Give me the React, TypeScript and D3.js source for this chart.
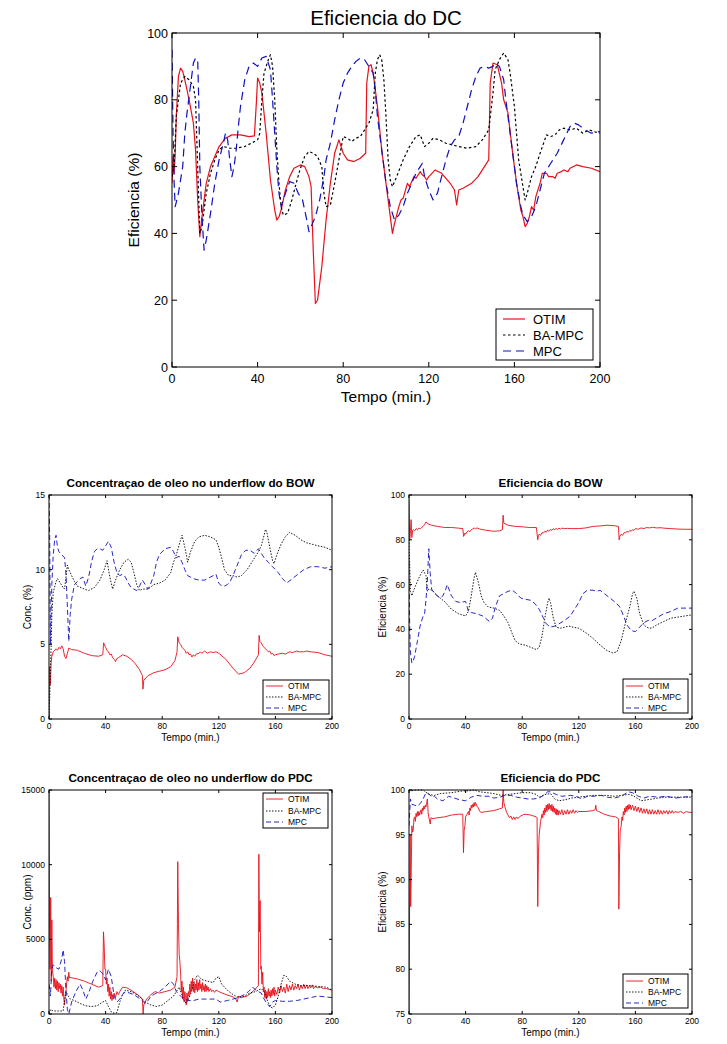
import React from 'react';
import * as d3 from 'd3';

type Pt = [number, number];

const seriesNames = ['OTIM', 'BA-MPC', 'MPC'];
const xTicks = [0, 40, 80, 120, 160, 200];
const dcTicks = [0, 20, 40, 60, 80, 100];
const bowcTicks = [0, 5, 10, 15];
const bowEffTicks = [0, 20, 40, 60, 80, 100];
const pdccTicks = [0, 5000, 10000, 15000];
const pdceTicks = [75, 80, 85, 90, 95, 100];

// ---------- Eficiencia do DC ----------
const dcOtim: Pt[] = [[0,55],[0.5,63],[1,58],[1.5,64],[2,75],[3,87],[4,89.5],[5,88.5],[6,86],[8,80],[10,73],[11,65],[12,50],[13,39],[14,45],[16,55],[18,60],[20,63],[22,66],[25,68.5],[28,69.5],[32,69.5],[36,69],[38.5,69.2],[39.5,80],[40,86.5],[41,85],[42,82],[44,70],[46,56],[48,47],[49,44],[50,45],[51,47],[53,53],[55,57],[57,59.5],[60,60.5],[62,60],[64,57],[65,54],[66,35],[67,19],[68,20],[70,30],[72,44],[74,55],[76,64],[78,68],[80,64],[82,62],[85,61.5],[88,62.5],[90.5,64],[91,85],[92,90],[93,90.5],[94,88],[96,78],[98,65],[100,55],[102,45],[103,40],[104,43],[106,48],[107,50],[108,50.5],[110,55],[111,54],[113,57],[114,56.5],[116,58.5],[117,57.5],[118,57],[119,56],[120,57],[123,59],[126,58],[130,55],[132,53],[133,48.5],[134,53],[136,53.5],[140,55],[143,57],[146,60],[148,62],[148.7,85],[150,91],[152,90.5],[154,85],[155,80],[157,76],[159,65],[161,55],[163,47],[164,45],[165,42],[166,43],[167,45],[168,48],[169,47],[170,51],[172,55],[173,58],[175,58],[176,57],[178,57],[179,56.5],[180,58],[182,58.5],[183,59],[185,58.5],[186,59.5],[189,60.5],[192,60],[196,59.5],[200,58.5]];
const dcBa: Pt[] = [[0,57],[1,60],[2,75],[4,85],[6,87],[8,86],[10,84],[11,80],[12,60],[13,40],[14,42],[16,52],[18,58],[20,62],[22,65],[24,66],[27,65.5],[30,65.5],[34,66],[37,67],[40,68],[41,70],[42,80],[43,88],[45,92],[46,93.5],[47,90],[48,80],[49,65],[50,55],[51,48],[52,45.5],[54,46],[56,50],[58,55],[60,59.5],[62,63],[64,64.5],[66,64],[68,63],[70,60],[71,52],[72,48],[74,48.5],[76,55],[78,62],[80,69],[82,68.5],[84,67.5],[86,68.5],[88,69],[90,71],[92,73],[94,77],[95,88],[96,92],[97,93.5],[98,92],[99,86],[100,75],[101,62],[102,56],[103,54],[105,57],[108,62],[111,66],[114,69],[116,69.5],[118,66],[120,67],[122,68.5],[125,68],[128,67],[131,66.5],[134,66],[138,65.5],[142,66],[145,68],[148,71],[150,82],[151,89],[153,92],[155,94],[157,92],[158,88],[160,78],[161,70],[162,62],[164,54],[165,50],[166,52],[168,57],[170,60],[172,64],[175,69.5],[177,69],[179,69.5],[181,71],[183,71.5],[186,71],[189,71.5],[192,70],[195,71],[197,70.5],[200,70]];
const dcMpc: Pt[] = [[0,95],[0.5,70],[1,55],[1.5,48],[3,52],[5,60],[6,70],[7,76],[9,86],[10,91],[11,92.5],[12,92],[12.5,80],[13,60],[14,45],[15,35],[16,38],[18,46],[20,55],[22,62],[24,67],[25,70],[26,68],[27,62],[28,57],[29,60],[30,65],[31,72],[32,78],[34,86],[36,90],[38,91],[40,90],[42,92.5],[44,93],[45,91],[46,89],[47,80],[48,70],[49,60],[50,52],[51,48],[53,52],[55,55.5],[57,55],[59,52],[61,50],[63,44],[64,40.5],[65,42],[67,45],[69,50],[71,57],[72,62],[74,67],[76,74],[78,80],[80,85],[82,88],[84,90],[86,91.5],[88,92.5],[90,92],[92,90],[94,88],[95,83],[96,75],[98,65],[100,55],[102,48],[104,44],[106,45.5],[108,48],[110,52],[112,55],[114,58],[116,60],[117,61],[118,57],[120,53],[122,50],[124,52],[126,57],[128,62],[130,66],[132,68],[134,69],[136,73],[138,78],[140,83],[142,87],[144,89.5],[146,90],[148,89.5],[150,90],[151,91],[153,90],[155,86],[156,80],[157,75],[159,65],[161,55],[163,48],[164,45.5],[166,43.5],[168,45],[170,48],[172,53],[174,58],[177,61],[180,64],[183,68],[186,72],[188,73],[190,72.5],[193,71],[196,70],[200,70.5]];

// ---------- Concentracao de oleo no underflow do BOW ----------
const bowcOtim: Pt[] = [[0,0],[0.3,3.5],[1,2.3],[1.5,3.8],[2,4.2],[3,4.5],[5,4.7],[6,4.6],[7,4.8],[8,4.7],[9,4.9],[10,4.7],[11,4.2],[12,4.05],[13,4.4],[14,4.75],[16,4.65],[20,4.6],[25,4.4],[30,4.25],[35,4.2],[38,4.3],[38.6,5.1],[40,4.8],[41,4.6],[42,4.5],[43,4.3],[44,4.35],[45,4.1],[46,4],[47,3.85],[48,4.05],[49,4.1],[52,4.3],[55,4.2],[58,4],[61,3.7],[64,3.3],[66,2.9],[66.4,2],[67,2.6],[70,2.9],[74,3.1],[78,3.2],[82,3.3],[86,3.5],[89,3.9],[90.5,4.5],[91,5.5],[92,5.1],[93,5],[94,4.8],[95,4.7],[96,4.6],[97,4.4],[98,4.5],[99,4.3],[100,4.35],[101,4.15],[102,4.3],[103,4.2],[104,4.35],[106,4.4],[107,4.5],[108,4.4],[110,4.55],[112,4.4],[114,4.5],[116,4.45],[118,4.5],[120,4.4],[125,4],[130,3.4],[134,3],[138,3.1],[142,3.4],[145,3.8],[148,4.3],[148.5,5.6],[149,5.2],[150,5.1],[151,4.9],[152,4.8],[153,4.7],[154,4.6],[155,4.5],[156,4.55],[157,4.35],[158,4.4],[159,4.25],[160,4.3],[162,4.35],[165,4.4],[167,4.35],[170,4.5],[172,4.45],[175,4.55],[177,4.5],[180,4.5],[182,4.55],[185,4.5],[190,4.45],[195,4.3],[200,4.2]];
const bowcBa: Pt[] = [[0,0],[1,3],[2,7],[3,8.5],[5,9.2],[6,9.4],[8,9.1],[10,8.8],[11,8.7],[12,9.5],[13,10.3],[14,10],[16,9.6],[18,9.2],[20,8.9],[25,8.7],[28,8.6],[32,8.8],[36,9.3],[39,10],[41,10.6],[43,9.5],[45,8.7],[47,9.3],[50,10],[53,10.5],[56,10.7],[58,10.5],[60,9.8],[62,9],[64,8.6],[66,8.7],[70,8.7],[74,9],[78,9.1],[82,9.3],[86,9.8],[88,10.5],[90,11],[93,12],[94,12.3],[96,11.5],[98,10.5],[100,11.2],[103,11.9],[106,12.2],[110,12.3],[114,12.2],[118,12],[120,11.5],[122,10.8],[124,10],[127,9.6],[130,9.6],[133,9.5],[136,9.6],[140,10],[144,10.6],[148,11.2],[150,11.6],[152,12.3],[153,12.7],[154,12.5],[156,11.5],[158,10.6],[159,10.4],[161,11],[164,11.7],[167,12.2],[170,12.5],[174,12.3],[178,12],[182,11.8],[186,11.7],[190,11.6],[195,11.5],[200,11.3]];
const bowcMpc: Pt[] = [[0,15],[0.5,12],[1,5],[2,9],[3,11],[4,12],[5,12.3],[6,11.5],[7,11.2],[9,11],[11,10.8],[12,9.7],[13,7.5],[14,5.2],[15,7],[16,8],[18,9],[20,9.2],[22,9.4],[24,9.5],[26,8.9],[28,9.5],[30,10.5],[32,11.2],[34,11.4],[36,11.4],[38,11.3],[40,11.6],[42,11.9],[44,11.5],[46,10.5],[48,9.8],[50,9.6],[52,9.7],[54,9.5],[56,9.1],[58,8.8],[60,8.7],[62,8.6],[64,8.9],[66,9.3],[68,9],[70,8.7],[72,9.1],[74,9.6],[76,10.5],[78,11],[82,11.4],[86,11.5],[88,11.2],[90,10.8],[92,10.9],[94,10.5],[96,10],[98,9.6],[102,9.4],[106,9.3],[110,9.3],[114,9.5],[118,9.7],[120,9.1],[122,8.9],[124,8.9],[126,9],[128,9.2],[130,9.6],[133,10.3],[136,11],[139,11.3],[142,11.3],[145,11.1],[148,11.4],[150,11.1],[152,10.8],[155,10.5],[158,10.2],[162,9.8],[165,9.4],[168,9.1],[172,9.4],[176,9.7],[180,10],[185,10.2],[190,10.2],[195,10.1],[200,10.2]];

// ---------- Eficiencia do BOW ----------
const bowEffOtim: Pt[] = [[0,98],[0.5,80],[1,84],[1.5,89],[2,81],[2.5,84],[3,84.5],[4,84],[5,85],[6,84.5],[7,85.2],[8,85],[9,85.5],[10,86],[11,86.8],[12,88],[13,87.3],[14,87],[16,86.5],[20,86],[25,85.5],[30,85.5],[35,85.2],[38,85],[38.6,81.5],[39.5,83],[40,82.5],[41,83.5],[42,84],[43,83.6],[44,84.5],[45,84.8],[46,85.3],[47,84.9],[48,85.3],[50,84.8],[55,84.2],[60,83.8],[64,84],[66,84.5],[66.5,91],[67,87.5],[70,86.5],[75,86],[80,85.8],[85,85.5],[90,85.5],[91,80],[91.5,82],[92,82.5],[93,82],[94,83.2],[95,83],[96,83.8],[97,83.4],[98,84.3],[99,83.8],[100,84.6],[101,84.2],[102,85],[103,84.5],[104,85.1],[105,84.6],[106,85.2],[107,84.8],[108,85.2],[110,85],[112,85.1],[115,85],[120,85],[125,85.3],[130,86],[135,86.2],[140,86.5],[145,86.3],[148,86],[148.5,80],[149,81.5],[150,82.5],[151,82],[152,83.2],[153,83],[154,83.8],[155,83.4],[156,84.2],[157,83.8],[158,84.5],[159,84.2],[160,85],[162,84.7],[164,85.3],[166,85],[168,85.5],[170,85.3],[172,85.6],[175,85.3],[178,85.4],[180,85.2],[185,85],[190,84.8],[195,84.7],[200,84.7]];
const bowEffBa: Pt[] = [[0,80],[1,57],[2,55],[3,57],[5,60],[7,63],[9,65.5],[10,66.5],[12,64],[13,57],[14,58],[16,57.5],[18,56.5],[20,55],[25,52.5],[30,49],[35,47],[40,46],[42,48],[44,55],[46,63],[47,65.5],[49,61],[51,55],[53,52],[56,50],[60,49.5],[64,48.5],[67,46],[70,43],[73,38],[75,35],[78,33.5],[82,33],[86,32],[90,31],[92,32],[94,37],[96,45],[98,52],[99,54],[100,52],[102,45],[104,41],[107,40.5],[110,41],[113,41.5],[116,41],[120,40.5],[125,38.5],[130,36],[135,33],[140,30.5],[144,29.5],[147,30],[150,35],[153,43],[156,50],[158,56],[159,57],[161,54],[163,47],[166,42],[168,41],[170,40.5],[172,40.7],[175,42],[180,43.5],[185,45],[190,45.5],[195,46],[200,46.5]];
const bowEffMpc: Pt[] = [[0,70],[0.5,40],[1,30],[2,25],[3,26],[4,28],[6,35],[8,42],[10,46],[11,47],[12,53],[13,62],[14,76],[15,65],[16,58],[18,56],[20,55],[22,54],[24,55],[26,58],[27,60],[30,55],[33,52.5],[36,52],[40,52.5],[42,48],[44,47.5],[48,47],[52,46],[55,44.5],[57,43.5],[59,45],[61,50],[64,55],[67,56],[70,57],[73,57.5],[76,56],[79,54],[82,53.5],[86,53],[89,51.5],[92,49],[95,45],[97,42.5],[100,41],[103,41.5],[106,42.5],[110,44],[114,46],[117,49],[120,52],[123,56],[126,57.5],[130,57.5],[133,57],[135,57.5],[138,56],[142,54],[146,52],[149,50],[152,45.5],[154,42],[157,39.5],[160,39],[163,41],[166,43],[169,44],[172,44],[176,45.5],[180,47],[185,48],[190,49.5],[195,49.5],[200,49.5]];

// ---------- Concentracao de oleo no underflow do PDC ----------
const pdccOtim: Pt[] = [[0,15000],[0.4,5500],[0.8,3000],[1.2,7800],[1.6,2200],[2,6300],[2.4,3000],[3,2500],[3.5,1800],[4,2400],[4.5,1700],[5,2300],[5.5,1600],[6,2200],[6.5,1500],[7,2100],[7.5,1700],[8,2000],[8.5,1400],[9,1900],[9.5,1200],[10,1800],[10.5,1000],[11,600],[11.5,1300],[12,1500],[12.5,2100],[13,2500],[13.5,2200],[14,2800],[14.5,2400],[15,2450],[20,2350],[25,2200],[30,2000],[35,1800],[38,1900],[38.5,5500],[39,4600],[39.5,3000],[40,3000],[40.5,2000],[41,2400],[41.5,1500],[42,2000],[42.5,1200],[43,1800],[43.5,1000],[44,1500],[44.5,900],[45,1300],[45.5,1000],[46,1400],[47,1100],[48,1500],[49,1300],[50,1500],[52,1800],[55,1750],[58,1600],[61,1400],[64,1200],[66,1000],[66.5,0],[67,600],[69,1000],[72,1300],[75,1500],[78,1400],[82,1500],[86,1600],[89,1800],[90.5,2500],[91,10200],[91.5,6000],[92,4000],[92.5,3500],[93,2700],[93.5,1500],[94,2200],[94.5,1000],[95,1800],[95.5,800],[96,1500],[96.5,1100],[97,600],[97.5,1400],[98,900],[98.5,1500],[99,1200],[99.5,2000],[100,1400],[100.5,2200],[101,1600],[101.5,2400],[102,1500],[102.5,2100],[103,1400],[103.5,2000],[104,1600],[104.5,2300],[105,1500],[105.5,2100],[106,1600],[106.5,2300],[107,1700],[107.5,2000],[108,1500],[108.5,2100],[109,1600],[109.5,1900],[110,1500],[110.5,2000],[111,1500],[111.5,1900],[112,1600],[112.5,1800],[113,1500],[114,1700],[115,1500],[116,1600],[117,1450],[118,1600],[120,1500],[125,1300],[130,1150],[132,1000],[133,800],[134,1200],[136,1100],[140,1200],[144,1500],[148,1900],[148.3,10700],[148.7,5500],[149.2,7600],[149.7,3000],[150,3200],[150.5,2000],[151,2800],[151.5,1500],[152,1800],[152.5,1100],[153,1600],[153.5,1000],[154,1500],[154.5,1100],[155,1700],[155.5,1200],[156,1500],[156.5,1100],[157,1600],[157.5,1200],[158,1700],[158.5,1300],[159,1800],[159.5,1200],[160,1600],[161,1300],[162,1800],[163,1400],[164,1900],[165,1500],[166,1800],[167,1400],[168,2000],[169,1500],[170,1900],[171,1600],[172,2000],[173,1600],[174,1900],[175,1700],[176,2000],[177,1600],[178,1900],[179,1700],[180,2000],[181,1700],[182,1950],[183,1700],[184,1900],[185,1750],[186,1950],[187,1700],[188,1850],[190,1750],[192,1800],[194,1700],[196,1700],[198,1650],[200,1600]];
const pdccBa: Pt[] = [[0,0],[1,300],[3,200],[6,200],[10,200],[11,900],[12,1500],[13,1300],[15,1000],[18,900],[22,700],[26,550],[30,500],[34,550],[38,800],[40,900],[42,500],[44,150],[46,50],[48,100],[50,800],[52,1300],[54,1600],[58,1500],[62,1300],[66,1000],[68,800],[72,600],[76,500],[80,600],[84,900],[88,1200],[90,1500],[92,1800],[95,1000],[97,700],[100,1300],[103,2300],[105,2600],[108,2300],[112,2200],[116,2100],[118,2400],[120,2500],[122,2000],[126,1600],[130,1300],[134,1100],[138,1200],[142,1400],[146,1500],[150,1700],[152,1500],[154,1000],[156,500],[158,400],[160,600],[162,1200],[164,2000],[166,2600],[168,2500],[170,2200],[174,2000],[178,1900],[184,1900],[190,1850],[196,1800],[200,1600]];
const pdccMpc: Pt[] = [[0,2000],[1,1200],[2,3000],[3,3300],[5,3100],[7,3000],[9,3700],[10,4300],[11,3500],[12,1500],[13,300],[14,0],[16,800],[19,1500],[22,2000],[24,1600],[26,1000],[28,1400],[31,2200],[34,2800],[36,2900],[38,2700],[40,2300],[42,3000],[44,2500],[46,1200],[48,800],[50,1000],[52,1300],[54,1500],[57,1400],[60,1300],[63,1100],[66,900],[68,700],[70,900],[72,1200],[74,1300],[78,1500],[82,1800],[86,2200],[88,2000],[90,1500],[94,1100],[98,900],[102,900],[106,1000],[110,1000],[114,1000],[118,1000],[121,800],[126,900],[130,1000],[134,1100],[138,1300],[141,1500],[144,1800],[146,1600],[150,1400],[152,1000],[154,700],[156,500],[158,800],[160,900],[165,850],[170,850],[175,900],[180,1000],[185,1100],[190,1200],[195,1150],[200,1100]];

// ---------- Eficiencia do PDC ----------
const pdceOtim: Pt[] = [[0,75],[0.4,86.5],[0.8,95],[1.2,87],[1.6,91],[2,96],[2.5,95.3],[3,95.5],[3.5,96.8],[4,97],[4.5,96.5],[5,97.4],[5.5,97],[6,97.6],[6.5,97.1],[7,97.6],[7.5,97.2],[8,97.5],[8.5,97.8],[9,97.3],[9.5,98],[10,97.7],[10.5,98.2],[11,97.9],[11.5,98.3],[12,98.1],[12.5,98.6],[13,99],[13.5,97.5],[14,97],[15,96.2],[15.5,96.9],[17,96.8],[20,96.9],[25,97],[30,97.2],[35,97.3],[38,97.3],[38.5,93],[39,95.5],[39.5,96],[40,97],[41,97.3],[42,97.6],[42.5,97.2],[43,98],[43.5,97.7],[44,98.3],[44.5,98],[45,98.4],[45.5,98.1],[46,98.6],[46.5,98.2],[47,98.6],[48,98.2],[49,98],[50,97.6],[51,97.5],[55,97.6],[60,97.7],[64,97.9],[66,98],[66.5,100],[67,98.6],[68,98],[69,97.5],[70,97.2],[71,96.9],[72,97.1],[73,96.7],[74,97],[75,96.7],[76,97],[77,96.8],[78,97],[80,97.2],[82,97.3],[86,97.2],[90,97],[90.5,96.9],[91,87],[91.5,93],[92,95],[93,96.5],[94,97.3],[94.5,96.9],[95,97.7],[95.5,97.2],[96,98],[96.5,97.5],[97,98.3],[97.5,97.6],[98,98.4],[98.5,97.8],[99,98.5],[99.5,97.9],[100,98.3],[100.5,97.7],[101,98.4],[101.5,97.6],[102,98.2],[102.5,97.5],[103,98],[103.5,97.3],[104,97.9],[104.5,97.2],[105,97.8],[105.5,97.2],[106,97.7],[107,97.3],[108,97.8],[109,97.2],[110,97.7],[111,97.3],[112,97.8],[113,97.3],[114,97.7],[115,97.4],[116,97.8],[117,97.4],[118,97.7],[119,97.5],[120,97.6],[125,97.6],[130,97.7],[131.5,97.8],[132,98.3],[132.5,97.7],[134,97.6],[138,97.3],[142,97.1],[146,97],[148,96.8],[148.3,86.7],[148.8,93],[149.3,95.5],[150,96],[150.5,97],[151,96.6],[151.5,97.6],[152,97.2],[152.5,98],[153,97.5],[153.5,98.2],[154,97.6],[154.5,98.3],[155,97.8],[155.5,98.4],[156,97.9],[156.5,98.3],[157,97.8],[158,98.3],[159,97.7],[160,98.2],[161,97.6],[162,98.1],[163,97.5],[164,98],[165,97.4],[166,97.9],[167,97.4],[168,97.9],[169,97.3],[170,97.8],[171,97.3],[172,97.8],[173,97.3],[174,97.7],[175,97.3],[176,97.8],[177,97.3],[178,97.7],[179,97.3],[180,97.7],[181,97.4],[182,97.7],[183,97.3],[184,97.7],[185,97.4],[186,97.7],[187,97.4],[188,97.6],[190,97.5],[192,97.6],[194,97.4],[196,97.6],[198,97.5],[200,97.5]];
const pdceBa: Pt[] = [[0,100],[1,99.9],[5,100],[10,100],[14,99.5],[18,99.4],[22,99.6],[30,99.7],[38,99.9],[42,99.9],[46,100],[50,99.8],[55,99.7],[60,99.6],[65,99.4],[70,99.5],[75,99.6],[80,99.7],[86,99.7],[90,99.5],[92,99.2],[96,99.5],[100,99.6],[103,99],[106,98.8],[110,98.9],[115,99.1],[120,99.2],[125,99.3],[130,99.4],[140,99.4],[145,99.3],[150,99.4],[155,99.5],[158,99.4],[162,99],[164,98.8],[168,98.9],[172,99],[176,99.1],[180,99.2],[190,99.2],[200,99.2]];
const pdceMpc: Pt[] = [[0,96],[1,99],[2,98.4],[4,98.3],[6,98.2],[8,98.5],[10,99],[12,99.7],[14,99.6],[16,99.2],[18,99.3],[20,99],[24,98.8],[28,99.3],[32,99.1],[36,98.9],[40,98.8],[44,99.2],[48,99.4],[52,99.3],[56,99.3],[60,99.1],[64,99.2],[68,99.4],[72,99.4],[76,99.2],[80,99.1],[84,99],[88,99],[92,99.1],[96,99.5],[98,99.8],[100,99.8],[104,99.5],[108,99.3],[114,99.4],[118,99.3],[122,99],[126,99.3],[130,99.3],[136,99.4],[140,99.2],[145,99.1],[150,99.3],[155,99.8],[158,99.7],[162,99.3],[166,99.1],[170,99.3],[176,99.2],[182,99.3],[188,99.1],[194,99.2],[200,99.3]];

const FONT = '"Liberation Sans", Arial, Helvetica, sans-serif';
const COLORS = ['#e8101a', '#000000', '#1010c0'];

interface Legend { x: number; y: number; w: number; h: number; rows: number[]; l0: number; l1: number; tx: number; }
interface Cfg {
  id: string; left: number; right: number; top: number; bottom: number;
  yDomain: [number, number]; yTicks: number[];
  title: string; titleY: number; yLabel: string; yLabelX: number; xLabelY: number;
  fTitle: number; titleWeight: string; fTick: number; fLabel: number; fLegend: number;
  tickLen: number; lw: number; xTickDy: number;
  data: Pt[][]; dashes: string[]; legend: Legend;
}

function Panel({ c }: { c: Cfg }) {
  const x = d3.scaleLinear().domain([0, 200]).range([c.left, c.right]);
  const y = d3.scaleLinear().domain(c.yDomain).range([c.bottom, c.top]);
  const line = d3.line<Pt>().x(d => x(d[0])).y(d => y(d[1]));
  const cx = (c.left + c.right) / 2;
  const cy = (c.top + c.bottom) / 2;
  const L = c.legend;
  return (
    <g fontFamily={FONT}>
      <defs>
        <clipPath id={'clip-' + c.id}>
          <rect x={c.left} y={c.top - 1} width={c.right - c.left} height={c.bottom - c.top + 2} />
        </clipPath>
      </defs>
      <text x={cx} y={c.titleY} textAnchor="middle" fontSize={c.fTitle} fontWeight={c.titleWeight}>{c.title}</text>
      <g clipPath={`url(#clip-${c.id})`}>
        {c.data.map((s, i) => (
          <path key={i} d={line(s) || ''} fill="none" stroke={COLORS[i]} strokeWidth={c.lw}
            strokeDasharray={c.dashes[i]} strokeLinejoin="round" />
        ))}
      </g>
      <rect x={c.left} y={c.top} width={c.right - c.left} height={c.bottom - c.top} fill="none" stroke="#000" strokeWidth={1} />
      {xTicks.map(t => (
        <g key={'xt' + t}>
          <line x1={x(t)} x2={x(t)} y1={c.bottom} y2={c.bottom - c.tickLen} stroke="#000" />
          <line x1={x(t)} x2={x(t)} y1={c.top} y2={c.top + c.tickLen} stroke="#000" />
          <text x={x(t)} y={c.bottom + c.xTickDy} textAnchor="middle" fontSize={c.fTick}>{t}</text>
        </g>
      ))}
      {c.yTicks.map(t => (
        <g key={'yt' + t}>
          <line x1={c.left} x2={c.left + c.tickLen} y1={y(t)} y2={y(t)} stroke="#000" />
          <line x1={c.right} x2={c.right - c.tickLen} y1={y(t)} y2={y(t)} stroke="#000" />
          <text x={c.left - 4} y={y(t)} dy="0.36em" textAnchor="end" fontSize={c.fTick}>{String(t)}</text>
        </g>
      ))}
      <text x={cx} y={c.xLabelY} textAnchor="middle" fontSize={c.fLabel}>Tempo (min.)</text>
      <text transform={`translate(${c.yLabelX},${cy}) rotate(-90)`} textAnchor="middle" dy="0.36em" fontSize={c.fLabel}>{c.yLabel}</text>
      <rect x={L.x} y={L.y} width={L.w} height={L.h} fill="#fff" stroke="#000" strokeWidth={1} />
      {seriesNames.map((n, i) => (
        <g key={n}>
          <line x1={L.l0} x2={L.l1} y1={L.rows[i]} y2={L.rows[i]} stroke={COLORS[i]} strokeWidth={c.lw} strokeDasharray={c.dashes[i]} />
          <text x={L.tx} y={L.rows[i]} dy="0.36em" fontSize={c.fLegend}>{n}</text>
        </g>
      ))}
    </g>
  );
}

const smallBase = {
  fTitle: 11.7, titleWeight: 'bold', fTick: 8.5, fLabel: 10, fLegend: 8.5,
  tickLen: 3, lw: 0.9, xTickDy: 10,
  dashes: ['none', '1.5,1.5', '5,3'],
};

export default function App() {
  const top: Cfg = {
    id: 'dc', left: 172, right: 600, top: 33, bottom: 367,
    yDomain: [0, 100], yTicks: dcTicks,
    title: 'Eficiencia do DC', titleY: 25, yLabel: 'Eficiencia (%)', yLabelX: 133, xLabelY: 402,
    fTitle: 20.5, titleWeight: 'normal', fTick: 12.5, fLabel: 15.5, fLegend: 13,
    tickLen: 5, lw: 1.2, xTickDy: 16,
    data: [dcOtim, dcBa, dcMpc], dashes: ['none', '2.5,2.5', '8,5'],
    legend: { x: 496, y: 309, w: 97, h: 51, rows: [319, 335, 351], l0: 503, l1: 525, tx: 533 },
  };
  const p1: Cfg = {
    ...smallBase, id: 'bowc', left: 49, right: 332, top: 495, bottom: 719,
    yDomain: [0, 15], yTicks: bowcTicks,
    title: 'Concentraçao de oleo no underflow do BOW', titleY: 487, yLabel: 'Conc. (%)', yLabelX: 27, xLabelY: 741,
    data: [bowcOtim, bowcBa, bowcMpc],
    legend: { x: 263, y: 680, w: 66, h: 34, rows: [686, 697, 708], l0: 266, l1: 283, tx: 288 },
  };
  const p2: Cfg = {
    ...smallBase, id: 'bowe', left: 409, right: 692, top: 495, bottom: 719,
    yDomain: [0, 100], yTicks: bowEffTicks,
    title: 'Eficiencia do BOW', titleY: 487, yLabel: 'Eficiencia (%)', yLabelX: 382, xLabelY: 741,
    data: [bowEffOtim, bowEffBa, bowEffMpc],
    legend: { x: 623, y: 679, w: 65, h: 34, rows: [686, 697, 708], l0: 626, l1: 643, tx: 648 },
  };
  const p3: Cfg = {
    ...smallBase, id: 'pdcc', left: 49, right: 332, top: 790, bottom: 1014,
    yDomain: [0, 15000], yTicks: pdccTicks,
    title: 'Concentraçao de oleo no underflow do PDC', titleY: 782, yLabel: 'Conc. (ppm)', yLabelX: 27, xLabelY: 1036,
    data: [pdccOtim, pdccBa, pdccMpc],
    legend: { x: 263, y: 793, w: 65, h: 35, rows: [799, 811, 822], l0: 266, l1: 283, tx: 288 },
  };
  const p4: Cfg = {
    ...smallBase, id: 'pdce', left: 409, right: 692, top: 790, bottom: 1014,
    yDomain: [75, 100], yTicks: pdceTicks,
    title: 'Eficiencia do PDC', titleY: 782, yLabel: 'Eficiencia (%)', yLabelX: 382, xLabelY: 1036,
    data: [pdceOtim, pdceBa, pdceMpc],
    legend: { x: 623, y: 974, w: 65, h: 34, rows: [981, 992, 1003], l0: 626, l1: 643, tx: 648 },
  };
  return (
    <svg width={727} height={1044} viewBox="0 0 727 1044"
      style={{ position: 'absolute', left: 0, top: 0, background: '#fff' }}>
      <rect x={0} y={0} width={727} height={1044} fill="#fff" />
      {[top, p1, p2, p3, p4].map(c => <Panel key={c.id} c={c} />)}
    </svg>
  );
}
